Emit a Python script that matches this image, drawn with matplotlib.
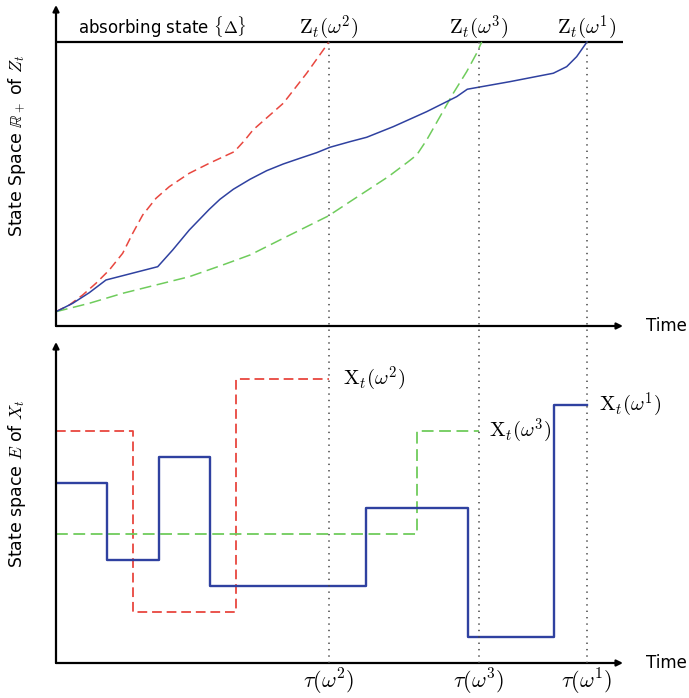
import matplotlib
matplotlib.use("Agg")
import matplotlib.pyplot as plt
from matplotlib.transforms import blended_transform_factory
from matplotlib.lines import Line2D

plt.rcParams["font.family"] = ["DejaVu Sans"]
plt.rcParams["mathtext.fontset"] = "cm"
plt.rcParams["lines.scale_dashes"] = False

# ---- data -------------------------------------------------------------
# killing times of the three sample paths (omega^1, omega^2, omega^3)
paths = ["1", "2", "3"]
tau = {"1": 93.65, "2": 48.15, "3": 74.6}
absorbing_level = 100.0

# additive functional Z_t for each path (time, value)
z1_t = [0, 2.95, 5.87, 8.82, 17.94, 20.58, 23.51, 27.04, 28.92, 31.27,
        34.22, 37.16, 40.09, 43.03, 45.98, 48.32, 51.85, 54.80, 59.49,
        65.38, 70.67, 72.54, 80.07, 87.71, 90.07, 91.83, 93.65]
z1_v = [5.04, 7.99, 11.73, 16.20, 20.88, 26.76, 33.80, 41.09, 44.61, 48.13,
        51.65, 54.68, 57.04, 59.05, 61.02, 62.92, 64.89, 66.44, 70.18,
        75.46, 80.74, 83.35, 86.02, 88.98, 91.30, 94.82, 100]

z2_t = [0, 2.35, 4.71, 7.05, 9.40, 11.76, 13.53, 15.29, 17.64, 19.98,
        23.51, 27.04, 31.45, 33.33, 34.74, 40.09, 44.21, 48.15]
z2_v = [5.04, 7.39, 10.92, 15.04, 19.72, 25.60, 32.64, 39.08, 44.96, 49.05,
        53.77, 57.29, 61.37, 65.49, 69.01, 78.42, 88.98, 100]

z3_t = [0, 5.87, 11.76, 17.64, 23.51, 29.40, 34.22, 40.09, 44.21, 48.02,
        51.85, 58.61, 62.13, 63.62, 65.38, 67.72, 70.07, 72.43, 74.19, 75.08]
z3_v = [5.04, 7.99, 11.51, 14.44, 17.36, 21.48, 25.00, 30.88, 34.96, 38.73,
        43.77, 52.57, 57.85, 60.21, 65.49, 73.70, 81.95, 89.54, 96.02, 100]

# jump process X_t for each path: jump times and states held from them
x1_t = [0, 9.0, 18.2, 27.2, 54.7, 72.7, 87.8]
x1_s = [60.1, 34.3, 68.8, 25.7, 51.8, 8.8, 86.0]

x2_t = [0, 13.6, 31.7]
x2_s = [77.4, 17.1, 94.6]

x3_t = [0, 63.7]
x3_s = [43.0, 77.4]

# ---- styles -----------------------------------------------------------
BLUE = "#2f41a0"
RED = "#e8473f"
GREEN = "#6fcc5c"

W, H = 689, 698
fig = plt.figure(figsize=(W / 100, H / 100), dpi=100)


def px_axes(x0, x1, ytop, ybot):
    return fig.add_axes([x0 / W, 1 - ybot / H, (x1 - x0) / W, (ybot - ytop) / H])


ax_z = px_axes(56, 623, 5, 326)
ax_x = px_axes(56, 623, 342, 663)
ax_z.set_xlim(0, 100)
ax_z.set_ylim(0, 113.0)
ax_x.set_xlim(0, 100)
ax_x.set_ylim(0, 107.0)

for ax in (ax_z, ax_x):
    ax.set_axis_off()
    arrow = dict(arrowstyle="-|>", lw=1.6, color="black",
                 mutation_scale=9, shrinkA=0, shrinkB=0)
    ax.annotate("", xy=(1, 0), xytext=(0, 0), xycoords="axes fraction",
                arrowprops=arrow, annotation_clip=False)
    ax.annotate("", xy=(0, 1), xytext=(0, 0), xycoords="axes fraction",
                arrowprops=arrow, annotation_clip=False)
    ax.text(1.04, 0, "Time", transform=ax.transAxes, fontsize=12,
            va="center", ha="left")

# absorbing state line
ax_z.plot([0, 100], [absorbing_level] * 2, color="black", lw=1.6,
          solid_capstyle="butt", clip_on=False)
ax_z.text(3.9, 105.0, r"absorbing state $\{\Delta\}$", fontsize=12,
          va="center", ha="left")

# Z_t sample paths
ax_z.plot(z2_t, z2_v, color=RED, lw=1.1, dashes=(6.5, 3.5))
ax_z.plot(z3_t, z3_v, color=GREEN, lw=1.1, dashes=(8.5, 4))
ax_z.plot(z1_t, z1_v, color=BLUE, lw=1.1)

for p in paths:
    ax_z.text(tau[p], 105.0, r"$\mathrm{Z}_t(\omega^%s)$" % p, fontsize=15,
              ha="center", va="center")

# X_t sample paths (step functions up to the killing time)
for ts, ss, p, color, kw in [
    (x2_t, x2_s, "2", RED, dict(lw=1.3, dashes=(7, 3.5))),
    (x3_t, x3_s, "3", GREEN, dict(lw=1.3, dashes=(8.5, 4))),
    (x1_t, x1_s, "1", BLUE, dict(lw=1.7)),
]:
    ax_x.step(ts + [tau[p]], ss + [ss[-1]], where="post", color=color, **kw)

label_dx = {"1": 2.2, "2": 2.5, "3": 1.7}
for ss, p in [(x1_s, "1"), (x2_s, "2"), (x3_s, "3")]:
    ax_x.text(tau[p] + label_dx[p], ss[-1], r"$\mathrm{X}_t(\omega^%s)$" % p,
              fontsize=15, ha="left", va="center")
    ax_x.text(tau[p], -6.3, r"$\tau(\omega^%s)$" % p, fontsize=16,
              ha="center", va="center")

# dotted killing-time markers across both panels
trans = blended_transform_factory(ax_z.transData, fig.transFigure)
for p in paths:
    fig.add_artist(Line2D([tau[p], tau[p]], [1 - 42 / H, 1 - 663 / H],
                          transform=trans, color="#444444", lw=1.1,
                          dashes=(1, 3.6)))

fig.text(17 / W, 1 - 146 / H, r"State Space $\mathbb{R}_+$ of $Z_t$",
         rotation=90, fontsize=12.5, ha="center", va="center")
fig.text(17 / W, 1 - 483 / H, r"State space $E$ of $X_t$",
         rotation=90, fontsize=12.5, ha="center", va="center")

fig.savefig("out.png", dpi=100)
